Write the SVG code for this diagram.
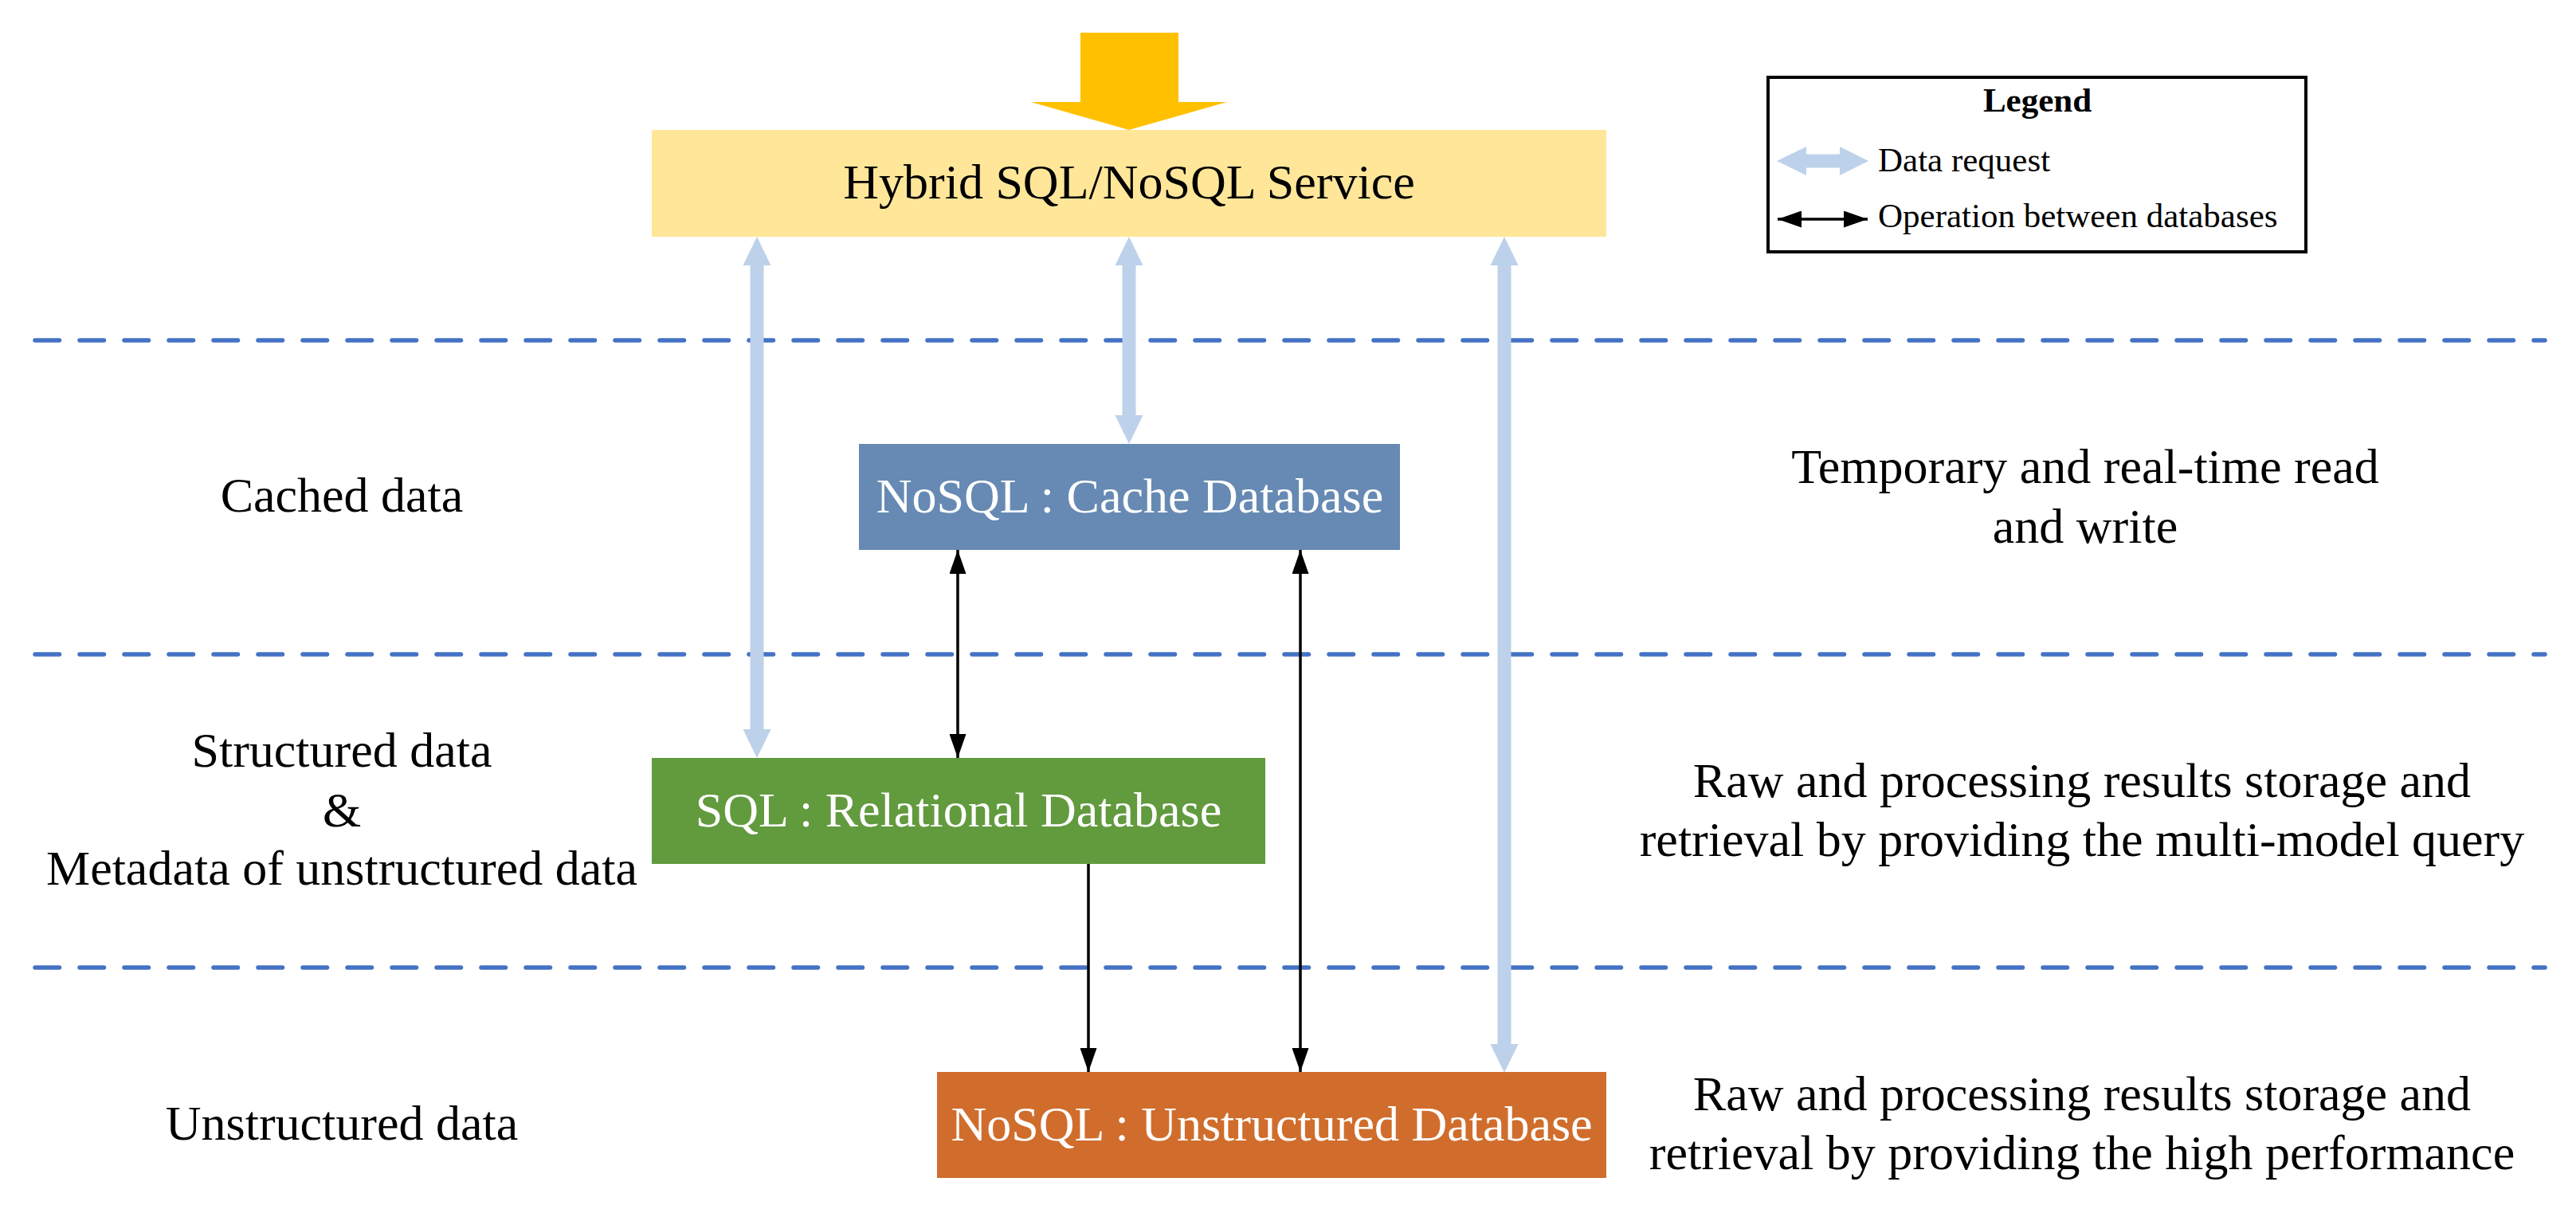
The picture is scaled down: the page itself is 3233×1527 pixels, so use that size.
<svg xmlns="http://www.w3.org/2000/svg" width="3233" height="1527" viewBox="0 0 3233 1527">
  <defs>
    <style>
      .t { font-family: "Liberation Serif", "Times New Roman", serif; font-size: 62px; fill: #000; text-anchor: middle; }
      .w { fill: #fff; }
      .lg { font-family: "Liberation Serif", "Times New Roman", serif; font-size: 43px; fill: #000; }
      .dash { stroke: #4472C4; stroke-width: 5.5; stroke-dasharray: 30.5 25.5; stroke-linecap: round; fill: none; }
      .req { fill: #BDD1EA; }
      .op { stroke: #000; stroke-width: 3.5; fill: none; }
    </style>
    <marker id="ah" viewBox="0 0 30 21" refX="30" refY="10.5" markerWidth="30" markerHeight="21" markerUnits="userSpaceOnUse" orient="auto-start-reverse">
      <path d="M0,0 L30,10.5 L0,21 Z" fill="#000"/>
    </marker>
  </defs>
  <rect width="3233" height="1527" fill="#fff"/>

  <g id="layer-lines">
    <line class="dash" x1="44" y1="427" x2="3194" y2="427"/>
    <line class="dash" x1="44" y1="821" x2="3194" y2="821"/>
    <line class="dash" x1="44" y1="1214" x2="3194" y2="1214"/>
  </g>

  <g id="layer-labels">
    <text class="t" x="429" y="642">Cached data</text>
    <text class="t" x="429" y="962">Structured data</text>
    <text class="t" x="429" y="1037">&amp;</text>
    <text class="t" x="429" y="1110">Metadata of unstructured data</text>
    <text class="t" x="429" y="1430">Unstructured data</text>
    <text class="t" x="2617" y="606">Temporary and real-time read</text>
    <text class="t" x="2617" y="681">and write</text>
    <text class="t" x="2613" y="1000">Raw and processing results storage and</text>
    <text class="t" x="2613" y="1074">retrieval by providing the multi-model query</text>
    <text class="t" x="2613" y="1393">Raw and processing results storage and</text>
    <text class="t" x="2613" y="1467">retrieval by providing the high performance</text>
  </g>

  <g id="input-arrow">
    <polygon points="1356,41 1479,41 1479,128 1540,128 1417,163 1294,128 1356,128" fill="#FFC000"/>
  </g>

  <g id="node-service">
    <rect x="818" y="163" width="1198" height="134" fill="#FFE699"/>
    <text class="t" x="1417" y="249">Hybrid SQL/NoSQL Service</text>
  </g>

  <g id="node-cache">
    <rect x="1078" y="557" width="679" height="133" fill="#668AB3"/>
    <text class="t w" x="1418" y="643">NoSQL : Cache Database</text>
  </g>

  <g id="node-sql">
    <rect x="818" y="951" width="770" height="133" fill="#629A3E"/>
    <text class="t w" x="1203" y="1037">SQL : Relational Database</text>
  </g>

  <g id="node-unstructured">
    <rect x="1176" y="1345" width="840" height="133" fill="#D06D2C"/>
    <text class="t w" x="1596" y="1431">NoSQL : Unstructured Database</text>
  </g>

  <g id="connectors">
    <polygon class="req" points="950,297 967.5,333 958.5,333 958.5,915 967.5,915 950,951 932.5,915 941.5,915 941.5,333 932.5,333"/>
    <polygon class="req" points="1417,297 1434.5,333 1425.5,333 1425.5,521 1434.5,521 1417,557 1399.5,521 1408.5,521 1408.5,333 1399.5,333"/>
    <polygon class="req" points="1888,297 1905.5,333 1896.5,333 1896.5,1310 1905.5,1310 1888,1346 1870.5,1310 1879.5,1310 1879.5,333 1870.5,333"/>
    <line class="op" x1="1202" y1="690" x2="1202" y2="951" marker-start="url(#ah)" marker-end="url(#ah)"/>
    <line class="op" x1="1632" y1="690" x2="1632" y2="1345" marker-start="url(#ah)" marker-end="url(#ah)"/>
    <line class="op" x1="1366" y1="1084" x2="1366" y2="1345" marker-end="url(#ah)"/>
  </g>

  <g id="legend">
    <rect x="2219" y="97" width="675" height="219" fill="#fff" stroke="#000" stroke-width="4"/>
    <text class="lg" x="2557" y="140" text-anchor="middle" font-weight="bold">Legend</text>
    <polygon class="req" points="2230,202 2267,184 2267,193.5 2309,193.5 2309,184 2345,202 2309,220 2309,210.5 2267,210.5 2267,220"/>
    <text class="lg" x="2357" y="215">Data request</text>
    <line class="op" x1="2231" y1="275" x2="2344" y2="275" stroke-width="4" marker-start="url(#ah)" marker-end="url(#ah)"/>
    <text class="lg" x="2357" y="285">Operation between databases</text>
  </g>
</svg>
